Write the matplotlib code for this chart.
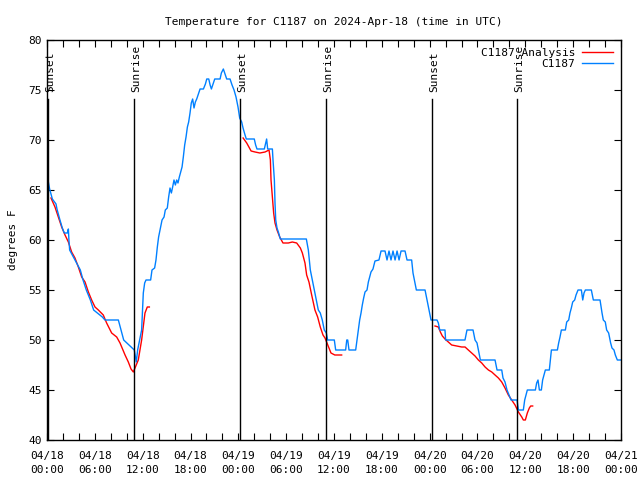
import numpy as np
import matplotlib
matplotlib.use("Agg")
import matplotlib.pyplot as plt

# ---- data (hours since 04/18 00:00 UTC, degrees F) ----
obs_hours = [0.0, 0.17, 0.33, 0.67, 1.13, 1.25, 1.59, 1.92, 2.17, 2.55, 2.68, 2.75, 2.84, 3.18, 3.51, 4.18,
             4.52, 4.93, 5.44, 5.85, 6.94, 7.27, 8.95, 9.28, 9.62, 10.95, 11.2, 11.37, 11.62, 11.87,
             12.08, 12.25, 12.42, 13.0, 13.17, 13.5, 13.67, 13.84, 14.0, 14.26, 14.43, 14.68, 14.84,
             15.09, 15.26, 15.43, 15.6, 15.76, 15.93, 16.1, 16.27, 16.43, 16.6, 16.77, 16.94, 17.1,
             17.27, 17.44, 17.61, 17.77, 17.94, 18.1, 18.27, 18.44, 18.61, 18.78, 19.03, 19.2, 19.62,
             19.87, 20.04, 20.29, 20.46, 20.62, 20.79, 21.04, 21.71, 21.87, 22.12, 22.29, 22.54, 22.96,
             23.21, 23.46, 23.71, 23.96, 24.17, 24.42, 24.59, 24.84, 25.0, 26.0, 26.17, 26.34, 27.26,
             27.43, 27.55, 27.68, 28.27, 28.35, 28.52, 28.6, 28.69, 28.85, 29.02, 29.27, 32.53, 32.78,
             33.03, 33.28, 33.53, 33.78, 34.03, 34.28, 34.53, 34.78, 35.04, 35.2, 36.04, 36.21, 37.46,
             37.6, 37.72, 37.88, 38.72, 38.89, 39.05, 39.22, 39.39, 39.55, 39.72, 39.89, 40.14, 40.31,
             40.47, 40.64, 40.89, 41.14, 41.64, 41.9, 42.4, 42.65, 42.9, 43.15, 43.4, 43.66, 43.91,
             44.16, 44.41, 44.91, 45.16, 45.74, 45.91, 46.08, 46.33, 47.42, 47.67, 47.92, 48.17,
             48.92, 49.09, 49.26, 49.92, 50.0, 52.43, 52.68, 53.44, 53.69, 53.94, 54.11, 54.36,
             56.2, 56.45, 57.04, 57.2, 57.45, 57.7, 57.96, 58.21, 58.96, 59.13, 59.75, 59.92, 60.08,
             60.25, 61.26, 61.42, 61.59, 61.76, 62.01, 62.17, 62.51, 63.01, 63.18, 63.27, 64.02,
             64.18, 64.35, 64.52, 65.02, 65.19, 65.44, 65.6, 65.77, 65.94, 66.19, 66.36, 66.61,
             67.03, 67.2, 67.36, 67.53, 68.28, 68.53, 69.37, 69.62, 69.78, 70.03, 70.2, 70.45, 70.7,
             70.87, 71.12, 71.29, 71.54, 72.0]
obs_temps = [66.0, 65.8, 65.1, 64.1, 63.6, 63.1, 62.1, 61.2, 60.7, 60.7, 61.1, 60.0, 59.0, 58.5, 58.0, 57.0,
             56.0, 55.0, 54.0, 53.0, 52.3, 52.0, 52.0, 51.0, 50.0, 49.0, 47.8, 49.0, 50.0, 51.0,
             54.7, 55.7, 56.0, 56.0, 57.0, 57.2, 58.0, 59.3, 60.3, 61.3, 62.0, 62.3, 63.0,
             63.2, 64.3, 65.2, 64.7, 65.3, 66.0, 65.5, 66.0, 65.7, 66.3, 66.8, 67.3, 68.3,
             69.5, 70.3, 71.3, 71.8, 72.7, 73.7, 74.1, 73.2, 73.8, 74.1, 74.7, 75.1, 75.1,
             75.6, 76.1, 76.1, 75.5, 75.1, 75.5, 76.1, 76.1, 76.7, 77.1, 76.7, 76.1, 76.1,
             75.5, 75.0, 74.3, 73.3, 72.2, 71.8, 71.2, 70.5, 70.1, 70.1, 69.5, 69.1, 69.1,
             69.7, 70.1, 69.1, 69.1, 68.0, 66.0, 63.7, 62.0, 61.2, 60.8, 60.1, 60.1, 59.0,
             57.0, 56.0, 55.0, 54.0, 53.0, 52.7, 52.0, 51.0, 50.7, 50.0, 50.0, 49.0, 49.0,
             50.0, 50.0, 49.0, 49.0, 50.0, 51.0, 52.0, 52.7, 53.5, 54.2, 54.8, 55.0, 55.8,
             56.3, 56.8, 57.1, 57.9, 58.0, 58.9, 58.9, 58.0, 58.9, 58.0, 58.9, 58.0, 58.9,
             58.0, 58.9, 58.9, 58.0, 58.0, 56.7, 56.0, 55.0, 55.0, 54.0, 53.0, 52.0,
             52.0, 51.7, 51.0, 51.0, 50.0, 50.0, 51.0, 51.0, 50.0, 49.7, 49.0, 48.0,
             48.0, 47.0, 47.0, 46.2, 45.8, 45.0, 44.5, 44.0, 44.0, 43.0, 43.0, 44.0, 44.5,
             45.0, 45.0, 45.7, 46.0, 45.0, 45.0, 46.0, 47.0, 47.0, 48.3, 49.0, 49.0,
             49.7, 50.3, 51.0, 51.0, 51.8, 52.0, 52.7, 53.2, 53.8, 54.0, 54.5, 55.0,
             55.0, 54.0, 54.7, 55.0, 55.0, 54.0, 54.0, 52.7, 52.0, 51.8, 51.0, 50.7, 49.7,
             49.2, 49.0, 48.5, 48.0, 48.0]

ana_hours = [0.5, 1.0, 1.42, 1.84, 2.26, 2.68, 3.09, 3.51, 3.93, 4.35, 4.77, 5.19, 5.6, 6.02, 6.44,
             7.06, 7.48, 8.11, 8.74, 9.16, 9.79, 10.2, 10.54, 10.83, 11.04, 11.45, 11.87, 12.29,
             12.58, 12.84, np.nan,
             24.6, 25.05, 25.6, 26.1, 26.7, 27.35, 27.85, 28.02, 28.1, 28.27, 28.43, 28.6, 28.85,
             29.19, 29.6, 30.27, 30.77, 31.32, 31.78, 32.03, 32.36, 32.57, 32.86, 33.2, 33.61,
             33.95, 34.28, 34.62, 34.87, 35.12, 35.37, 35.62, 36.1, 36.96, np.nan,
             48.67, 49.09, 49.34, 49.59, 49.92, 50.34, 50.76, 51.39, 52.02, 52.44, 52.85, 53.27,
             53.69, 54.11, 54.53, 54.95, 55.37, 55.79, 56.2, 56.62, 57.04, 57.45, 57.87, 58.29,
             58.71, 59.13, 59.55, 59.75, 60.0, 60.25, 60.5, 60.67, 60.92]
ana_temps = [64.2, 63.3, 62.3, 61.3, 60.5, 59.8, 58.8, 58.2, 57.3, 56.3, 55.8, 54.8, 54.0, 53.3, 53.0,
             52.5, 51.7, 50.7, 50.3, 49.7, 48.5, 47.8, 47.1, 46.8, 47.2, 48.0, 50.0, 52.7,
             53.3, 53.3, np.nan,
             70.2, 69.7, 68.9, 68.8, 68.7, 68.8, 69.0, 68.0, 66.0, 64.3, 62.7, 61.7, 61.0,
             60.3, 59.7, 59.7, 59.8, 59.7, 59.2, 58.7, 57.7, 56.5, 55.8, 54.5, 53.0,
             52.3, 51.3, 50.5, 50.2, 49.7, 49.2, 48.7, 48.5, 48.5, np.nan,
             51.4, 51.3, 50.8, 50.4, 50.1, 49.8, 49.5, 49.4, 49.3, 49.3, 49.0, 48.7,
             48.4, 48.0, 47.7, 47.3, 47.0, 46.8, 46.5, 46.2, 45.8, 45.2, 44.5, 44.0,
             43.5, 42.8, 42.3, 42.0, 42.0, 42.7, 43.2, 43.4, 43.4]

sun_hours = [0.12, 10.95, 24.25, 35.05, 48.35, 59.0]
sun_labels = ["Sunset", "Sunrise", "Sunset", "Sunrise", "Sunset", "Sunrise"]

xtick_hours = list(range(0, 73, 6))
xtick_labels = ["04/18\n00:00", "04/18\n06:00", "04/18\n12:00", "04/18\n18:00",
                "04/19\n00:00", "04/19\n06:00", "04/19\n12:00", "04/19\n18:00",
                "04/20\n00:00", "04/20\n06:00", "04/20\n12:00", "04/20\n18:00",
                "04/21\n00:00"]
yticks = [40, 45, 50, 55, 60, 65, 70, 75, 80]

FONT = "DejaVu Sans Mono"
plt.rcParams['font.family'] = FONT
plt.rcParams['font.size'] = 8

fig = plt.figure(figsize=(6.4, 4.8), dpi=100)
ax = fig.add_axes([47/640, 40/480, 574/640, 400/480])

ax.plot(ana_hours, ana_temps, color="#ff0000", lw=1.0, label="C1187 Analysis")
ax.plot(obs_hours, obs_temps, color="#0080ff", lw=1.0, label="C1187")

for h, lab in zip(sun_hours, sun_labels):
    ax.plot([h, h], [40, 74.1], color="black", lw=1.0)
    ax.annotate(lab, xy=(h, 74.8), xytext=(1.5, 0), textcoords="offset points",
                rotation=90, ha="center", va="bottom", fontsize=8)

ax.set_xlim(0, 72)
ax.set_ylim(40, 80)
ax.set_xticks(xtick_hours)
ax.set_xticklabels(xtick_labels, linespacing=1.45)
ax.set_xticks(list(range(0, 73, 2)), minor=True)
ax.set_yticks(yticks)
ax.tick_params(which="both", direction="in", top=True, right=True, length=5, width=0.8)
ax.tick_params(axis="x", pad=8)
ax.tick_params(axis="y", pad=4)
for s in ax.spines.values():
    s.set_linewidth(1.0)

ax.set_ylabel("degrees F", labelpad=7)
ax.set_title("Temperature for C1187 on 2024-Apr-18 (time in UTC)", fontsize=8, pad=11)

ax.legend(loc="upper right", frameon=False, markerfirst=False, handlelength=2.8,
          handletextpad=0.6, borderaxespad=0.3, labelspacing=0.1, fontsize=8)

fig.savefig("out.png", dpi=100)
